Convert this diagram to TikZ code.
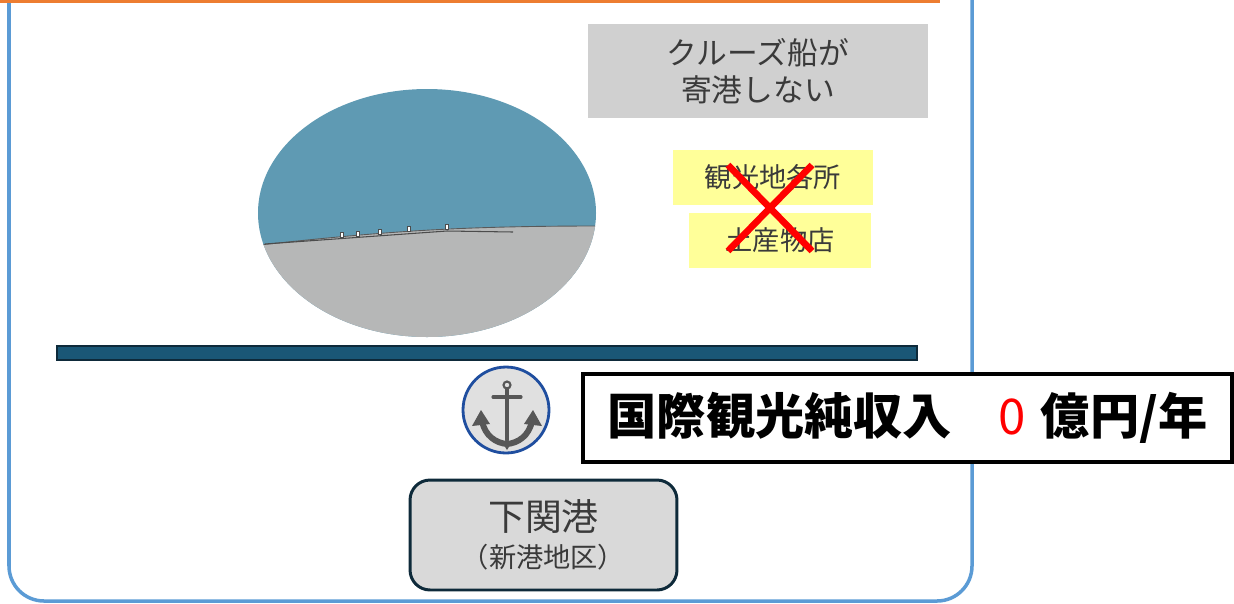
\documentclass[tikz,border=0pt]{standalone}
\usepackage{fontspec}
\setmainfont{Noto Sans CJK JP}
\definecolor{frameblue}{HTML}{5B9BD5}
\definecolor{topline}{HTML}{ED7D31}
\definecolor{sea}{HTML}{5F9AB3}
\definecolor{land}{HTML}{B6B7B7}
\definecolor{notegray}{HTML}{D0D0D0}
\definecolor{noteyellow}{HTML}{FFFF99}
\definecolor{textgray}{HTML}{3A3A3A}
\definecolor{quay}{HTML}{1A5776}
\definecolor{navy}{HTML}{0E2A3A}
\definecolor{ringblue}{HTML}{1F4E9F}
\definecolor{anchorgray}{HTML}{575757}

\begin{document}
\begin{tikzpicture}[x=0.02cm,y=-0.02cm,
    note/.style={fill=notegray,text=textgray,align=center,inner sep=0pt,
        minimum width=6.8cm,minimum height=1.88cm,font=\fontsize{17.5pt}{22pt}\selectfont},
    spot/.style={fill=noteyellow,text=textgray,inner sep=0pt,minimum height=1.1cm,
        font=\fontsize{15.5pt}{19pt}\selectfont},
    anchorline/.style={draw=anchorgray,line width=2.4pt,line cap=round}]
    \useasboundingbox (0,0) rectangle (1234,603);
    % frame and top rule
    \draw[frameblue,line width=2pt,rounded corners=0.7cm] (9,-30)--(9,601)--(972,601)--(972,-30);
    \draw[topline,line width=1.8pt] (0,1.5)--(940,1.5);
    % view of the harbour
    \fill[sea] (427,213) ellipse [x radius=169, y radius=124];
    \begin{scope}
        \clip (427,213) ellipse [x radius=169, y radius=124];
        \fill[land] (250,246) .. controls (380,232) and (450,226) .. (600,226)--(600,345)--(250,345)--cycle;
        \draw[gray!70!black,line width=0.5pt] (250,246) .. controls (380,232) and (450,226) .. (600,226);
    \end{scope}
    \draw[gray!60!black,line width=0.6pt] (265,244)--(447,231)--(513,232);
    \foreach \px/\py in {342/237,358/236,380/234,409/231,447/229}
        \draw[gray!60!black,fill=white,line width=0.3pt] (\px-1.5,\py-5) rectangle (\px+1.5,\py);
    % notes
    \node[note] (cruise) at (758,71) {クルーズ船が\\[-1pt]寄港しない};
    \node[spot,minimum width=4cm] (sights) at (773,177.5) {観光地各所\hspace{7pt}};
    \node[spot,minimum width=3.64cm] (shops) at (780,240.5) {土産物店};
    \draw[red,line width=3.8pt] (728,165)--(812,251) (812,165)--(728,251);
    % quay
    \draw[navy,fill=quay,line width=1.5pt] (57,346) rectangle (917,360);
    % anchor mark
    \node[circle,fill=black!12,draw=ringblue,line width=1.6pt,minimum size=1.72cm] (mark) at (506,410) {};
    \draw[anchorgray,line width=1.2pt] (507,385) circle [radius=3.5];
    \draw[anchorline] (507,389)--(507,440);
    \draw[anchorline,line width=1.8pt] (493,397)--(521,397);
    \draw[anchorline,line width=3.4pt] (482,421) .. controls (485,436) and (496,443) .. (507,444) .. controls (518,443) and (529,436) .. (532,421);
    \fill[anchorgray] (472,426)--(481,410)--(490,424)--cycle;
    \fill[anchorgray] (524,424)--(533,410)--(542,426)--cycle;
    \fill[anchorgray] (502,442)--(507,450)--(512,442)--cycle;
    % port name
    \node[draw=navy,fill=black!15,line width=1.7pt,rounded corners=0.4cm,
        minimum width=5.34cm,minimum height=2.2cm,align=center,text=textgray,inner sep=0pt,
        font=\fontsize{21pt}{24pt}\selectfont]
        (port) at (543.5,535) {下関港\\[-3pt]{\fontsize{15.5pt}{18pt}\selectfont （新港地区）}};
    % income
    \node[draw=black,fill=white,line width=2.2pt,minimum width=12.98cm,minimum height=1.76cm,inner sep=0pt,
        font=\fontsize{28pt}{30pt}\selectfont\bfseries]
        (income) at (907.5,418) {国際観光純収入\hspace{0.95em}{\color{red}\mdseries 0}\hspace{0.3em}億円/年};
\end{tikzpicture}
\end{document}
